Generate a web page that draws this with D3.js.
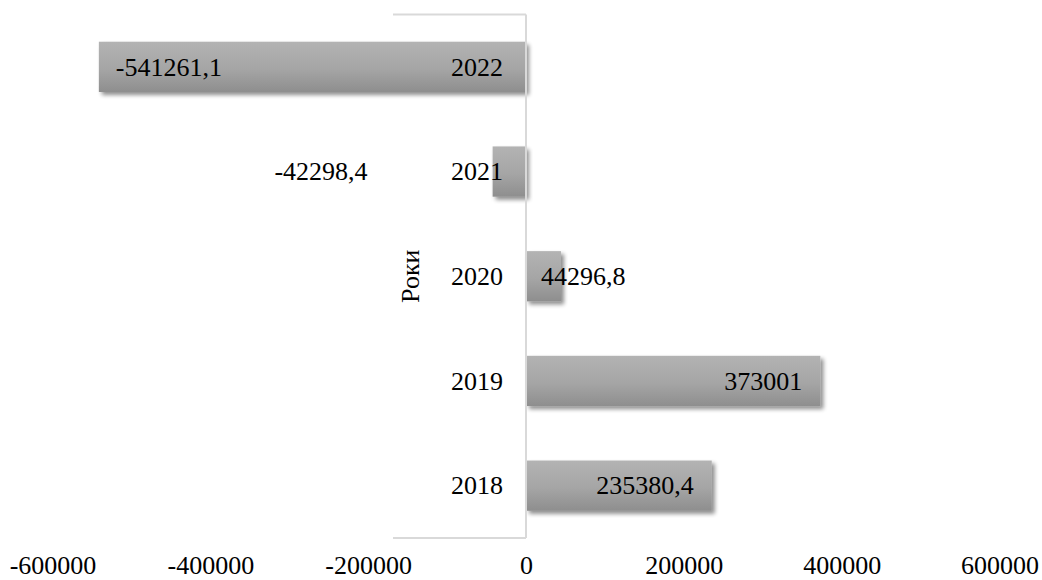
<!DOCTYPE html>
<html>
<head>
<meta charset="utf-8">
<script src="https://cdn.jsdelivr.net/npm/d3@7"></script>
<style>
  html, body { margin: 0; padding: 0; background: #ffffff; }
  svg { display: block; font-family: "Liberation Serif", "Times New Roman", serif; }
</style>
</head>
<body>
<svg id="chart" width="1042" height="580"></svg>
<script>
// Annual values by year (top to bottom: 2022 … 2018)
const years = ["2022", "2021", "2020", "2019", "2018"];
const values = [-541261.1, -42298.4, 44296.8, 373001, 235380.4];
const valueLabels = ["-541261,1", "-42298,4", "44296,8", "373001", "235380,4"];
const xTicks = [-600000, -400000, -200000, 0, 200000, 400000, 600000];
const axisTitle = "Роки";

const svg = d3.select("#chart");
const fontSize = 26;

const x = d3.scaleLinear().domain([-600000, 600000]).range([52.5, 999.5]);
const y = d3.scaleBand().domain(years).range([14.5, 538])
  .paddingInner(0.52).paddingOuter(0.26);

const defs = svg.append("defs");
const grad = defs.append("linearGradient")
  .attr("id", "barFill").attr("x1", 0).attr("y1", 0).attr("x2", 0).attr("y2", 1);
grad.append("stop").attr("offset", "0%").attr("stop-color", "#b3b3b3");
grad.append("stop").attr("offset", "55%").attr("stop-color", "#a5a5a5");
grad.append("stop").attr("offset", "100%").attr("stop-color", "#8e8e8e");

const shadow = defs.append("filter").attr("id", "barShadow")
  .attr("x", "-10%").attr("y", "-20%").attr("width", "130%").attr("height", "160%");
shadow.append("feGaussianBlur").attr("in", "SourceAlpha").attr("stdDeviation", 2.2).attr("result", "b");
shadow.append("feOffset").attr("in", "b").attr("dx", 2.5).attr("dy", 3).attr("result", "o");
shadow.append("feComponentTransfer").attr("in", "o").attr("result", "s")
  .append("feFuncA").attr("type", "linear").attr("slope", 0.45);
const merge = shadow.append("feMerge");
merge.append("feMergeNode").attr("in", "s");
merge.append("feMergeNode").attr("in", "SourceGraphic");

const rows = years.map((yr, i) => ({ year: yr, value: values[i], label: valueLabels[i] }));

// bars
svg.append("g").selectAll("rect").data(rows).join("rect")
  .attr("x", d => Math.min(x(d.value), x(0)))
  .attr("y", d => y(d.year))
  .attr("width", d => Math.abs(x(d.value) - x(0)))
  .attr("height", y.bandwidth())
  .attr("fill", "url(#barFill)")
  .attr("filter", "url(#barShadow)");

// frame lines around the category axis
const axisColor = "#d9d9d9";
const g = svg.append("g").attr("stroke", axisColor).attr("stroke-width", 2).attr("fill", "none");
g.append("line").attr("x1", x(0)).attr("x2", x(0)).attr("y1", 14.5).attr("y2", 538);
g.append("line").attr("x1", 393).attr("x2", x(0)).attr("y1", 14.5).attr("y2", 14.5);
g.append("line").attr("x1", 393).attr("x2", x(0)).attr("y1", 538).attr("y2", 538);

// year labels beside the zero line
svg.append("g").selectAll("text").data(rows).join("text")
  .attr("x", x(0) - 23)
  .attr("y", d => y(d.year) + y.bandwidth() / 2)
  .attr("dy", "0.34em")
  .attr("text-anchor", "end")
  .attr("font-size", fontSize)
  .attr("fill", "#000")
  .text(d => d.year);

// value labels
function labelPos(d) {
  const barW = Math.abs(x(d.value) - x(0));
  if (d.value < 0) {
    if (barW > 150) return { x: x(d.value) + 17, anchor: "start" };
    return { x: x(d.value) - 125, anchor: "end" };
  }
  if (barW > 150) return { x: x(d.value) - 18, anchor: "end" };
  return { x: x(0) + 15, anchor: "start" };
}
svg.append("g").selectAll("text").data(rows).join("text")
  .attr("x", d => labelPos(d).x)
  .attr("y", d => y(d.year) + y.bandwidth() / 2)
  .attr("dy", "0.34em")
  .attr("text-anchor", d => labelPos(d).anchor)
  .attr("font-size", fontSize)
  .attr("fill", "#000")
  .text(d => d.label);

// value axis tick labels
const xAxis = d3.axisBottom(x).tickValues(xTicks).tickSize(0).tickPadding(0)
  .tickFormat(d => String(d));
const ax = svg.append("g").attr("transform", "translate(0,574)").call(xAxis);
ax.select(".domain").remove();
ax.selectAll("text")
  .attr("font-family", "Liberation Serif, Times New Roman, serif")
  .attr("font-size", fontSize)
  .attr("fill", "#000")
  .attr("y", 0)
  .attr("dy", 0);

// rotated axis title
svg.append("text")
  .attr("transform", `translate(410,${(14.5 + 538) / 2}) rotate(-90)`)
  .attr("text-anchor", "middle")
  .attr("dy", "0.34em")
  .attr("font-size", fontSize)
  .attr("fill", "#000")
  .text(axisTitle);
</script>
</body>
</html>
